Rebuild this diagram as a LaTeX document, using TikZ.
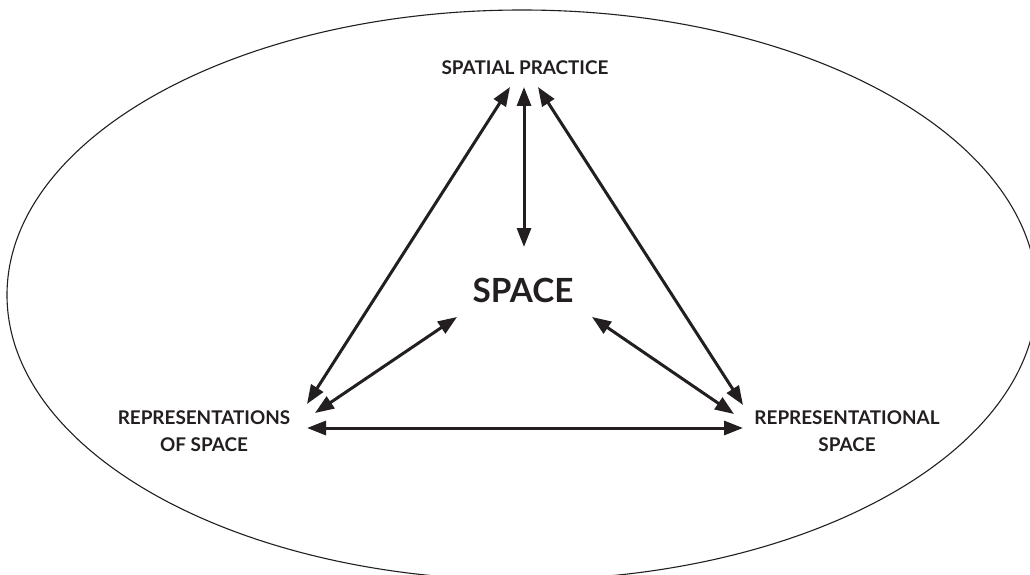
\documentclass[tikz,border=0pt]{standalone}
\usepackage{fontspec}
\setmainfont{Lato}
\usetikzlibrary{arrows.meta}
\definecolor{ink}{RGB}{35,31,32}
\tikzset{
  label/.style={font=\bfseries\fontsize{18.9}{27}\selectfont, text=ink, align=center, inner sep=0pt},
  core/.style={font=\bfseries\fontsize{33.3}{36}\selectfont, text=ink, inner sep=0pt},
  link/.style={draw=ink, line width=3pt, {Triangle[length=19pt,width=14pt]}-{Triangle[length=19pt,width=14pt]}},
  outline/.style={draw=ink, line width=1.1pt}
}
\begin{document}
\begin{tikzpicture}[x=1pt,y=-1pt]
  \useasboundingbox (0,0) rectangle (1030,575);
  \clip (0,0) rectangle (1030,575);
  \fill[white] (0,0) rectangle (1030,575);

  % enclosing field
  \draw[outline] (522,295) ellipse [x radius=515, y radius=285];

  % the three moments and space itself
  \node[label] (sp)  at (525,68)  {SPATIAL PRACTICE};
  \node[label] (ros) at (204,431) {REPRESENTATIONS\\OF SPACE};
  \node[label] (rs)  at (847,431) {REPRESENTATIONAL\\SPACE};
  \node[core]  (space) at (523,290) {SPACE};

  % arrow end points
  \coordinate (spL) at (510,87);
  \coordinate (spC) at (524,87);
  \coordinate (spR) at (538,87);
  \coordinate (rosT) at (307,404);
  \coordinate (rosM) at (315,413);
  \coordinate (rosB) at (307,428);
  \coordinate (rsT) at (743,405);
  \coordinate (rsM) at (734,414);
  \coordinate (rsB) at (743,428);
  \coordinate (spaceT) at (524,247);
  \coordinate (spaceL) at (457,317);
  \coordinate (spaceR) at (592,317);

  % connectors
  \draw[link] (spL) -- (rosT);
  \draw[link] (spR) -- (rsT);
  \draw[link] (spC) -- (spaceT);
  \draw[link] (spaceL) -- (rosM);
  \draw[link] (spaceR) -- (rsM);
  \draw[link] (rosB) -- (rsB);
\end{tikzpicture}
\end{document}
